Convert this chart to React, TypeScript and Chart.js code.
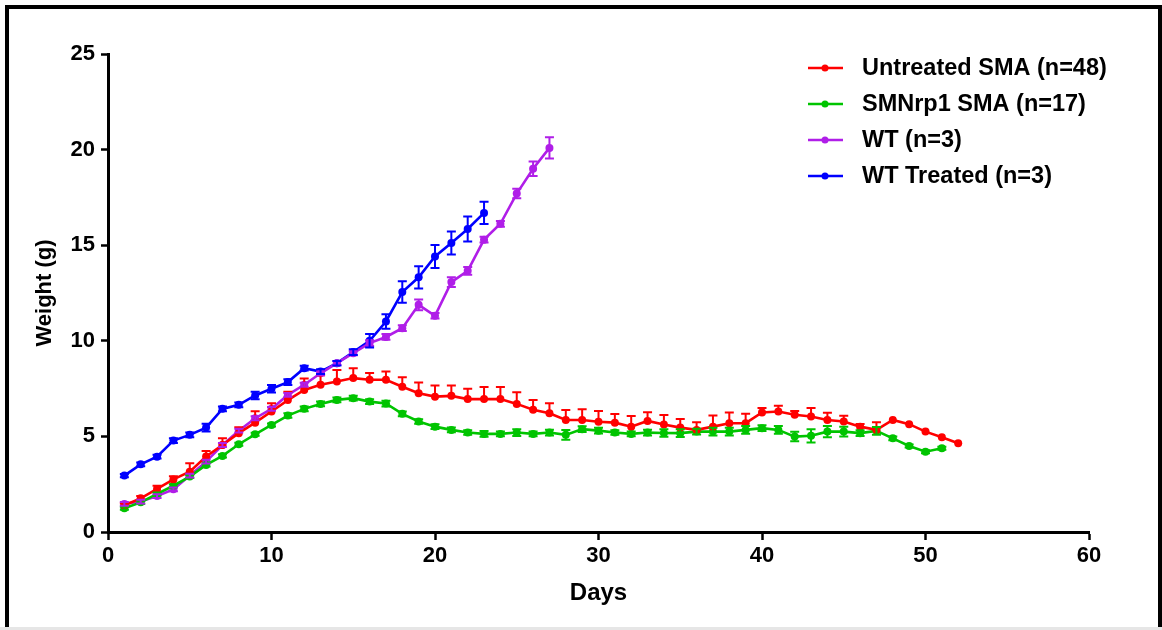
import React, { useEffect, useRef } from "react";
import { Chart, registerables } from "chart.js";
Chart.register(...registerables);

const days = [
  1, 2, 3, 4, 5, 6, 7, 8, 9, 10, 11, 12, 13, 14, 15, 16, 17, 18, 19, 20, 21, 22, 23, 24, 25, 26,
  27, 28, 29, 30, 31, 32, 33, 34, 35, 36, 37, 38, 39, 40, 41, 42, 43, 44, 45, 46, 47, 48, 49, 50, 51, 52,
];

const seriesLabels = ["Untreated SMA (n=48)", "SMNrp1 SMA (n=17)", "WT (n=3)", "WT Treated (n=3)"];
const seriesColors = ["#ff0000", "#00c400", "#b01ee8", "#0000ff"];

const untreatedSMA = [
  1.4, 1.76, 2.25, 2.75, 3.15, 3.95, 4.55, 5.17, 5.72, 6.3, 6.9, 7.43, 7.7, 7.87, 8.05, 7.96, 7.96,
  7.6, 7.26, 7.08, 7.12, 6.95, 6.95, 6.95, 6.7, 6.39, 6.21, 5.86, 5.86, 5.77, 5.72, 5.51, 5.81, 5.62,
  5.46, 5.34, 5.51, 5.69, 5.69, 6.25, 6.3, 6.13, 6.04, 5.86, 5.78, 5.51, 5.34, 5.86, 5.64, 5.25, 4.96, 4.64,
];
const untreatedSMAErr = [
  0.1, 0.12, 0.17, 0.17, 0.45, 0.28, 0.35, 0.31, 0.6, 0.44, 0.44, 0.6, 0.5, 0.6, 0.52, 0.35, 0.44,
  0.5, 0.56, 0.58, 0.54, 0.54, 0.63, 0.63, 0.61, 0.52, 0.52, 0.52, 0.56, 0.56, 0.45, 0.56, 0.45, 0.5,
  0.45, 0.4, 0.58, 0.56, 0.49, 0.23, 0.3, 0.2, 0.44, 0.38, 0.3, 0.14, 0.4, 0, 0, 0, 0, 0,
];

const smnrp1SMA = [
  1.24, 1.55, 1.99, 2.42, 2.9, 3.51, 3.98, 4.59, 5.11, 5.6, 6.09, 6.44, 6.7, 6.91, 7.0, 6.82, 6.72,
  6.18, 5.78, 5.51, 5.34, 5.2, 5.13, 5.13, 5.2, 5.13, 5.2, 5.08, 5.38, 5.3, 5.2, 5.13, 5.2, 5.18,
  5.17, 5.25, 5.25, 5.25, 5.34, 5.43, 5.34, 4.99, 5.03, 5.25, 5.25, 5.17, 5.29, 4.9, 4.5, 4.2, 4.38,
];
const smnrp1SMAErr = [
  0.08, 0.08, 0.08, 0.08, 0.08, 0.08, 0.08, 0.08, 0.08, 0.08, 0.12, 0.12, 0.12, 0.12, 0.12, 0.12, 0.15,
  0.12, 0.12, 0.12, 0.12, 0.12, 0.15, 0.12, 0.18, 0.12, 0.15, 0.25, 0.15, 0.15, 0.12, 0.12, 0.15, 0.2,
  0.2, 0.15, 0.2, 0.2, 0.2, 0.15, 0.2, 0.25, 0.35, 0.3, 0.25, 0.15, 0.2, 0.1, 0.08, 0.08, 0.08,
];

const wt = [
  1.47, 1.59, 1.88, 2.23, 2.95, 3.68, 4.55, 5.3, 5.95, 6.44, 7.17, 7.7, 8.3, 8.83, 9.35, 9.88, 10.2,
  10.66, 11.88, 11.31, 13.07, 13.66, 15.29, 16.12, 17.7, 19.0, 20.09,
];
const wtErr = [
  0.1, 0.1, 0.1, 0.1, 0.1, 0.1, 0.1, 0.1, 0.1, 0.1, 0.1, 0.1, 0.1, 0.1, 0.1, 0.15, 0.15,
  0.15, 0.28, 0.15, 0.25, 0.2, 0.15, 0.15, 0.25, 0.38, 0.55,
];

const wtTreated = [
  2.95, 3.54, 3.94, 4.78, 5.08, 5.46, 6.44, 6.65, 7.14, 7.49, 7.84, 8.57, 8.39, 8.83, 9.41, 10.0,
  11.01, 12.55, 13.32, 14.41, 15.11, 15.85, 16.69,
];
const wtTreatedErr = [
  0.08, 0.1, 0.1, 0.12, 0.12, 0.2, 0.12, 0.12, 0.2, 0.2, 0.15, 0.12, 0.12, 0.12, 0.15, 0.35,
  0.38, 0.56, 0.58, 0.6, 0.6, 0.65, 0.58,
];

const xTicks = { min: 0, max: 60, step: 10 };
const yTicks = { min: 0, max: 25, step: 5 };

const FONT = "'Liberation Sans', Arial, sans-serif";

const toPoints = (vals: number[]) => vals.map((v, i) => ({ x: days[i], y: v }));

const errorBarPlugin = {
  id: "errorBars",
  afterDatasetsDraw(chart: any) {
    const ctx = chart.ctx;
    const xs = chart.scales.x;
    const ys = chart.scales.y;
    chart.data.datasets.forEach((ds: any) => {
      const errs: number[] = ds.errs || [];
      ctx.save();
      ctx.strokeStyle = ds.borderColor;
      ctx.lineWidth = 2;
      ds.data.forEach((p: any, i: number) => {
        const e = errs[i] || 0;
        if (!e) return;
        const px = xs.getPixelForValue(p.x);
        const top = ys.getPixelForValue(p.y + e);
        const bot = ds.upOnly ? ys.getPixelForValue(p.y) : ys.getPixelForValue(p.y - e);
        ctx.beginPath();
        ctx.moveTo(px, top);
        ctx.lineTo(px, bot);
        ctx.moveTo(px - 4.5, top);
        ctx.lineTo(px + 4.5, top);
        if (!ds.upOnly) {
          ctx.moveTo(px - 4.5, bot);
          ctx.lineTo(px + 4.5, bot);
        }
        ctx.stroke();
      });
      ctx.restore();
    });
  },
};

const legendPlugin = {
  id: "customLegend",
  afterDraw(chart: any) {
    const ctx = chart.ctx;
    const area = chart.chartArea;
    const x0 = area.right - 281;
    const y0 = area.top + 14;
    const rowH = 36;
    ctx.save();
    seriesLabels.forEach((label, i) => {
      const y = y0 + i * rowH;
      ctx.strokeStyle = seriesColors[i];
      ctx.fillStyle = seriesColors[i];
      ctx.lineWidth = 2.5;
      ctx.beginPath();
      ctx.moveTo(x0, y);
      ctx.lineTo(x0 + 35, y);
      ctx.stroke();
      ctx.beginPath();
      ctx.arc(x0 + 17, y, 3.5, 0, Math.PI * 2);
      ctx.fill();
      ctx.fillStyle = "#000";
      ctx.font = `bold 23.5px ${FONT}`;
      ctx.textBaseline = "middle";
      ctx.textAlign = "left";
      ctx.fillText(label, x0 + 54, y + 1);
    });
    ctx.restore();
  },
};

export default function App() {
  const ref = useRef<HTMLCanvasElement>(null);
  useEffect(() => {
    document.body.style.margin = "0";
    const canvas = ref.current;
    if (!canvas) return;
    const allVals = [untreatedSMA, smnrp1SMA, wt, wtTreated];
    const allErrs = [untreatedSMAErr, smnrp1SMAErr, wtErr, wtTreatedErr];
    const chart = new Chart(canvas, {
      type: "line",
      data: {
        datasets: allVals.map((vals, i) => ({
          label: seriesLabels[i],
          data: toPoints(vals),
          errs: allErrs[i],
          upOnly: i === 0,
          borderColor: seriesColors[i],
          backgroundColor: seriesColors[i],
          pointBackgroundColor: seriesColors[i],
          pointBorderColor: seriesColors[i],
          pointRadius: 4,
          pointBorderWidth: 0,
          borderWidth: 2.6,
          tension: 0,
          fill: false,
        })) as any,
      },
      options: {
        responsive: false,
        animation: false,
        devicePixelRatio: 1,
        parsing: false as any,
        layout: { padding: { top: 54, right: 73, left: 0, bottom: 0 } },
        plugins: {
          legend: { display: false },
          tooltip: { enabled: false },
        },
        scales: {
          x: {
            type: "linear",
            min: xTicks.min,
            max: xTicks.max,
            ticks: { stepSize: xTicks.step, color: "#000", font: { family: FONT, size: 22, weight: "bold" }, padding: 3 },
            grid: { drawOnChartArea: false, drawTicks: true, tickLength: 8, tickColor: "#000", tickWidth: 2.5 },
            border: { display: true, color: "#000", width: 3 },
            title: { display: true, text: "Days", color: "#000", font: { family: FONT, size: 24, weight: "bold" }, padding: { top: 0, bottom: 22 } },
            afterFit: (s: any) => { s.height = 98; },
          },
          y: {
            type: "linear",
            min: yTicks.min,
            max: yTicks.max,
            ticks: { stepSize: yTicks.step, color: "#000", font: { family: FONT, size: 22, weight: "bold" }, padding: 6 },
            grid: { drawOnChartArea: false, drawTicks: true, tickLength: 7, tickColor: "#000", tickWidth: 2.5 },
            border: { display: true, color: "#000", width: 3 },
            title: { display: true, text: "Weight (g)", color: "#000", font: { family: FONT, size: 22, weight: "bold" }, padding: { top: 32, bottom: 0 } },
            afterFit: (s: any) => { s.width = 108; },
          },
        },
      },
      plugins: [errorBarPlugin, legendPlugin],
    } as any);
    return () => chart.destroy();
  }, []);
  return (
    <div style={{ position: "relative", width: 1162, height: 630, background: "#fff", overflow: "hidden" }}>
      <div
        style={{
          position: "absolute",
          left: 5,
          top: 5,
          width: 1157,
          height: 623,
          borderTop: "4px solid #000",
          borderLeft: "4px solid #000",
          borderRight: "4px solid #000",
          boxSizing: "border-box",
        }}
      />
      <div style={{ position: "absolute", left: 0, top: 627, width: 1162, height: 3, background: "#e6e6e6" }} />
      <canvas ref={ref} width={1162} height={630} style={{ position: "absolute", left: 0, top: 0 }} />
    </div>
  );
}
